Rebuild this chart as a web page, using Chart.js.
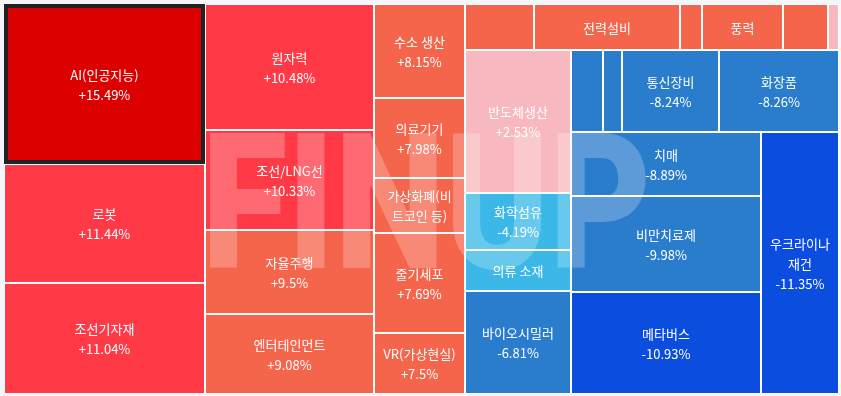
<!DOCTYPE html>
<html>
<head>
<meta charset="utf-8">
<script src="https://cdn.jsdelivr.net/npm/chart.js@4.4.0/dist/chart.umd.min.js"></script>
<style>
  html, body { margin: 0; padding: 0; background: #f4f6fa; }
  #wrap { width: 841px; height: 396px; }
</style>
</head>
<body>
<div id="wrap"><canvas id="themeMap"></canvas></div>
<script>
// theme names, daily change (%) and weight, in the order the map lays them out
const themes = ['AI(인공지능)', '로봇', '조선기자재', '원자력', '조선/LNG선', '자율주행', '엔터테인먼트',
  '수소 생산', '의료기기', '가상화폐(비트코인 등)', '줄기세포', 'VR(가상현실)',
  '태양광에너지', '전력설비', '수소차', '풍력', '원격진료', '탄소배출권',
  '반도체생산', '화학섬유', '의류 소재', '바이오시밀러', '게임', '항공우주', '통신장비', '화장품',
  '치매', '비만치료제', '메타버스', '우크라이나 재건'];
const changes = [15.49, 11.44, 11.04, 10.48, 10.33, 9.5, 9.08,
  8.15, 7.98, 7.82, 7.69, 7.5,
  7.2, 6.9, 6.5, 6.1, 5.6, 3.4,
  2.53, -4.19, -4.6, -6.81, -7.35, -7.9, -8.24, -8.26,
  -8.89, -9.98, -10.93, -11.35];
const weights = [32160, 23919, 22311, 21294, 16900, 14196, 13520,
  8554, 7280, 5005, 9100, 5551,
  3174, 6716, 1012, 3726, 2070, 506,
  15158, 6042, 4346, 10918, 2624, 1558, 7954, 9840,
  12160, 18240, 19380, 20436];
const selectedTheme = 'AI(인공지능)';

// colour bins by change
const binFloors = [15, 10, 5, 0, -5, -10, -Infinity];
const binColors = ['#dc0000', '#ff3a46', '#f5654b', '#f8b8bf', '#3bb8e8', '#2a7ccc', '#0b4ddf'];

const MAP_W = 835, MAP_H = 390;
const FONT = '"Noto Sans CJK KR", "Noto Sans", sans-serif';

function colorFor(v) {
  for (let i = 0; i < binFloors.length; i++) {
    if (v > binFloors[i] || (binFloors[i] === 0 && v > 0)) return binColors[i];
  }
  return binColors[binColors.length - 1];
}

function fmtChange(v) {
  return (v > 0 ? '+' : '') + v + '%';
}

// squarified layout (same greedy rule as d3.treemapSquarify), order kept
function squarify(values, x0, y0, x1, y1) {
  const ratio = (1 + Math.sqrt(5)) / 2;
  const total = values.reduce((a, b) => a + b, 0);
  const scale = (x1 - x0) * (y1 - y0) / total;
  const nodes = values.map(v => v * scale);
  let value = nodes.reduce((a, b) => a + b, 0);
  const rects = [];
  let i0 = 0, i1 = 0;
  const n = nodes.length;
  while (i0 < n) {
    const dx = x1 - x0, dy = y1 - y0;
    let sum = nodes[i1++];
    let minV = sum, maxV = sum;
    const alpha = Math.max(dy / dx, dx / dy) / (value * ratio);
    let beta = sum * sum * alpha;
    let minRatio = Math.max(maxV / beta, beta / minV);
    for (; i1 < n; ++i1) {
      const nv = nodes[i1];
      sum += nv;
      if (nv < minV) minV = nv;
      if (nv > maxV) maxV = nv;
      beta = sum * sum * alpha;
      const newRatio = Math.max(maxV / beta, beta / minV);
      if (newRatio > minRatio) { sum -= nv; break; }
      minRatio = newRatio;
    }
    if (dx < dy) {
      // row along the top
      const h = dy * sum / value;
      let x = x0;
      for (let i = i0; i < i1; i++) {
        const w = dx * nodes[i] / sum;
        rects[i] = { x0: x, y0: y0, x1: x + w, y1: y0 + h };
        x += w;
      }
      y0 += h;
    } else {
      // column along the left
      const w = dx * sum / value;
      let y = y0;
      for (let i = i0; i < i1; i++) {
        const h = dy * nodes[i] / sum;
        rects[i] = { x0: x0, y0: y, x1: x0 + w, y1: y + h };
        y += h;
      }
      x0 += w;
    }
    value -= sum;
    i0 = i1;
  }
  return rects;
}

function wrapText(ctx, text, maxW) {
  const lines = [];
  let line = '';
  for (const ch of text) {
    const test = line + ch;
    if (line && ctx.measureText(test).width > maxW) {
      lines.push(line.trim());
      line = ch === ' ' ? '' : ch;
    } else {
      line = test;
    }
  }
  if (line.trim()) lines.push(line.trim());
  return lines;
}

const treemapPlugin = {
  id: 'treemapCells',
  beforeDraw(chart) {
    const { ctx, chartArea } = chart;
    ctx.save();
    ctx.fillStyle = '#ffffff';
    ctx.fillRect(chartArea.left, chartArea.top, chartArea.width, chartArea.height);
    ctx.restore();
  },
  afterDatasetsDraw(chart) {
    const { ctx } = chart;
    const xs = chart.scales.x, ys = chart.scales.y;
    const rects = squarify(weights, 0, 0, MAP_W, MAP_H);
    const boxes = rects.map(r => {
      const left = xs.getPixelForValue(r.x0), right = xs.getPixelForValue(r.x1);
      const top = ys.getPixelForValue(r.y0), bottom = ys.getPixelForValue(r.y1);
      return { x: Math.round(left) + 1, y: Math.round(top) + 1,
               w: Math.round(right) - Math.round(left) - 2, h: Math.round(bottom) - Math.round(top) - 2 };
    });

    ctx.save();
    boxes.forEach((b, i) => {
      ctx.fillStyle = colorFor(changes[i]);
      ctx.fillRect(b.x, b.y, b.w, b.h);
      if (themes[i] === selectedTheme) {
        ctx.strokeStyle = '#222222';
        ctx.lineWidth = 4;
        ctx.strokeRect(b.x + 1, b.y + 1, b.w - 2, b.h - 2);
      }
    });

    // watermark
    ctx.globalAlpha = 0.24;
    ctx.fillStyle = '#ffffff';
    ctx.font = '900 190px Roboto, "DejaVu Sans", sans-serif';
    ctx.textAlign = 'left';
    ctx.textBaseline = 'alphabetic';
    const mark = 'FINUP';
    const mw = ctx.measureText(mark).width;
    const cx = xs.getPixelForValue(MAP_W * 0.506), base = ys.getPixelForValue(MAP_H * 0.676);
    ctx.translate(cx, base);
    ctx.scale(450 / mw, 1);
    ctx.fillText(mark, -mw / 2, 0);
    ctx.setTransform(1, 0, 0, 1, 0, 0);
    ctx.globalAlpha = 1;

    // labels
    ctx.font = '13px ' + FONT;
    ctx.fillStyle = '#ffffff';
    ctx.textAlign = 'center';
    ctx.textBaseline = 'middle';
    const lineH = 20;
    boxes.forEach((b, i) => {
      const availW = b.w - 14, availH = b.h - 8;
      if (availW < 26) return;
      const nameLines = wrapText(ctx, themes[i], availW);
      let lines = nameLines.concat([fmtChange(changes[i])]);
      if (lines.length * lineH > availH) lines = nameLines;
      if (lines.length * lineH > availH) return;
      const cx = b.x + b.w / 2;
      const startY = b.y + b.h / 2 - (lines.length - 1) * lineH / 2 + 1;
      lines.forEach((t, k) => ctx.fillText(t, cx, startY + k * lineH));
    });
    ctx.restore();
  }
};

new Chart(document.getElementById('themeMap'), {
  type: 'scatter',
  data: { datasets: [{ data: [], pointRadius: 0 }] },
  options: {
    responsive: true,
    maintainAspectRatio: false,
    animation: false,
    events: [],
    layout: { padding: { left: 4, top: 4, right: 2, bottom: 2 } },
    scales: {
      x: { type: 'linear', min: 0, max: MAP_W, display: false },
      y: { type: 'linear', min: 0, max: MAP_H, reverse: true, display: false }
    },
    plugins: {
      legend: { display: false },
      tooltip: { enabled: false }
    }
  },
  plugins: [treemapPlugin]
});
</script>
</body>
</html>
